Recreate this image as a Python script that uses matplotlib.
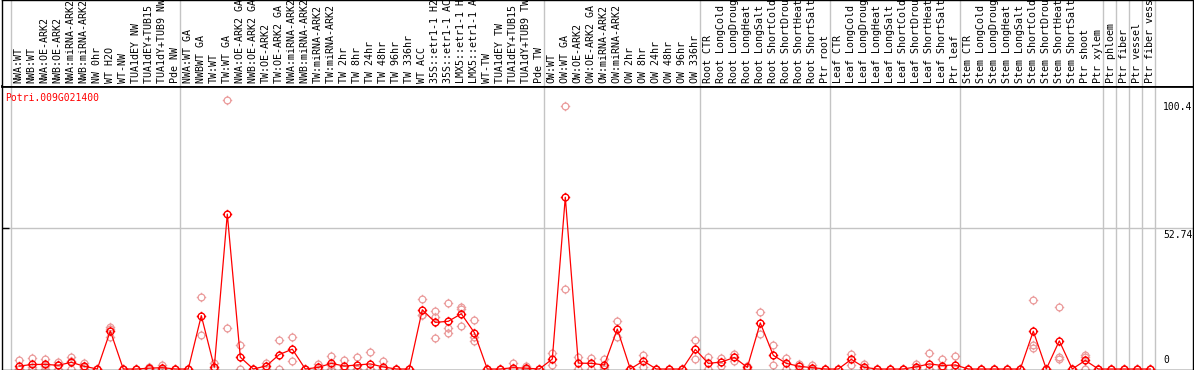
import numpy as np
import matplotlib
matplotlib.use("Agg")
from matplotlib import pyplot as plt
from matplotlib.path import Path

gene = "Potri.009G021400"

samples = [
    "NWA:WT", "NWB:WT", "NWA:OE-ARK2", "NWB:OE-ARK2", "NWA:miRNA-ARK2", "NWB:miRNA-ARK2",
    "NW 0hr", "WT H2O", "WT-NW", "TUA1dEY NW", "TUA1dEY+TUB15 NW", "TUA1dY+TUB9 NW", "Pde NW",
    "NWA:WT GA", "NWBWT GA", "TW:WT", "TW:WT GA", "NWA:OE-ARK2 GA", "NWB:OE-ARK2 GA",
    "TW:OE-ARK2", "TW:OE-ARK2 GA", "NWA:miRNA-ARK2 GA", "NWB:miRNA-ARK2 GA", "TW:miRNA-ARK2",
    "TW:miRNA-ARK2 GA", "TW 2hr", "TW 8hr", "TW 24hr", "TW 48hr", "TW 96hr", "TW 336hr",
    "WT ACC", "35S::etr1-1 H2O", "35S::etr1-1 ACC", "LMX5::etr1-1 H2O", "LMX5::etr1-1 ACC",
    "WT-TW", "TUA1dEY TW", "TUA1dEY+TUB15 TW", "TUA1dY+TUB9 TW", "Pde TW",
    "OW:WT", "OW:WT GA", "OW:OE-ARK2", "OW:OE-ARK2 GA", "OW:miRNA-ARK2", "OW:miRNA-ARK2 GA",
    "OW 2hr", "OW 8hr", "OW 24hr", "OW 48hr", "OW 96hr", "OW 336hr",
    "Root CTR", "Root LongCold", "Root LongDrought", "Root LongHeat", "Root LongSalt",
    "Root ShortCold", "Root ShortDrought", "Root ShortHeat", "Root ShortSalt", "Ptr root",
    "Leaf CTR", "Leaf LongCold", "Leaf LongDrought", "Leaf LongHeat", "Leaf LongSalt",
    "Leaf ShortCold", "Leaf ShortDrought", "Leaf ShortHeat", "Leaf ShortSalt", "Ptr leaf",
    "Stem CTR", "Stem LongCold", "Stem LongDrought", "Stem LongHeat", "Stem LongSalt",
    "Stem ShortCold", "Stem ShortDrought", "Stem ShortHeat", "Stem ShortSalt",
    "Ptr shoot", "Ptr xylem", "Ptr phloem", "Ptr fiber", "Ptr vessel", "Ptr fiber vessel",
]

# mean expression per sample (the red line)
means = [
    1.1, 1.7, 1.7, 1.4, 2.5, 1.0, 0, 14.2, 0, 0, 0.3, 0.5, 0,
    0, 19.9, 0.7, 57.8, 4.4, 0, 1.15, 5.4, 7.4, 0, 0.6, 2.1, 1.1, 1.5, 1.9, 0.75, 0, 0,
    22.1, 17.4, 17.8, 20.6, 13.6, 0, 0, 0.5, 0.3, 0,
    3.7, 64.1, 2.2, 2.1, 1.5, 14.9, 0, 3.0, 0, 0, 0, 7.3,
    2.1, 2.6, 4.3, 0.6, 17.2, 5.1, 2.1, 1.0, 0.5, 0,
    0, 3.6, 0.6, 0, 0, 0, 0.8, 1.9, 1.3, 1.5,
    0, 0, 0, 0, 0, 14.1, 0, 10.5, 0,
    3.2, 0, 0, 0, 0, 0,
]

# individual replicates (pale circles)
reps = [
    [3.3, 0, 0], [4.2, 0.9, 0], [3.9, 1.2, 0], [2.7, 1.5, 0], [4.6, 2.9, 0], [2.2, 0.8, 0],
    [0, 0], [15.6, 15.0, 12.0], [0, 0], [0, 0], [0.9, 0, 0], [1.5, 0, 0], [0, 0],
    [0, 0], [27.0, 12.8], [2.1, 0, 0], [100.4, 15.2], [8.8, 0], [0, 0], [2.3, 0],
    [10.8, 0], [11.8, 3.0], [0, 0], [1.7, 0, 0], [4.8, 1.5, 0], [3.3, 0, 0], [4.3, 0, 0],
    [6.2, 0, 0], [3.0, 0, 0, 0], [0, 0], [0, 0],
    [26.2, 20.0, 20.1], [21.5, 11.4, 19.3], [24.5, 13.6, 15.3], [23.3, 16.2, 22.3],
    [18.2, 10.5, 12.1], [0, 0], [0, 0], [2.2, 0, 0, 0], [1.2, 0, 0, 0], [0, 0],
    [5.8, 1.6], [98.1, 30.0], [4.5, 0], [4.2, 0], [3.7, 0.8, 0], [17.8, 12.0], [0, 0],
    [5.2, 0.8], [0, 0], [0, 0], [0, 0], [11.0, 3.6],
    [4.3, 0], [4.1, 1.1], [5.6, 3.0], [1.2, 0], [21.4, 12.9], [8.8, 1.4], [4.2, 0],
    [2.0, 0], [1.6, 0, 0], [0, 0],
    [0, 0], [5.6, 1.5], [1.9, 0, 0], [0, 0], [0, 0], [0, 0], [2.0, 0.4, 0], [5.8, 0, 0],
    [3.7, 0.2, 0], [4.7, 0, 0],
    [0, 0], [0, 0], [0, 0], [0, 0], [0, 0], [25.8, 8.9, 7.7], [0, 0], [23.3, 4.5, 3.7], [0, 0],
    [5.4, 4.3, 0], [0, 0], [0, 0], [0, 0], [0, 0], [0, 0],
]

# first sample index of each block (gray separators)
group_starts = [0, 13, 41, 53, 63, 73, 84, 85, 86, 87, 88]
axis_values = [100.4, 52.74, 0]

RED = "#ff0000"
PALE = "#eb9c9c"
GRID = "#c4c4c4"
MONO = "DejaVu Sans Mono"

W, H = 1194, 370
fig = plt.figure(figsize=(W / 100, H / 100), dpi=100)

# pixel layout
left_px, top_plot_px, bottom_px = 2, 86, 369.5
px_per_col, px_per_unit = 13, 2.68
x0 = -(19.3 - left_px) / px_per_col
x1 = x0 + (W - 1 - left_px) / px_per_col
plot_h = bottom_px - top_plot_px
y0 = -0.5 / px_per_unit
y1 = y0 + plot_h / px_per_unit

ax = fig.add_axes([left_px / W, (H - bottom_px) / H, (W - 1 - left_px) / W, plot_h / H])
hd = fig.add_axes([left_px / W, (H - top_plot_px) / H, (W - 1 - left_px) / W, top_plot_px / H])

for a in (ax, hd):
    a.set_xlim(x0, x1)
    a.set_xticks([])
    for s in a.spines.values():
        s.set_color("black")
        s.set_linewidth(1)
    for g in group_starts:
        a.axvline(g - 0.62, color=GRID, lw=1, zorder=0)

ax.set_ylim(y0, y1)
ax.spines["top"].set_linewidth(2)
hd.spines["bottom"].set_visible(False)
hd.set_ylim(0, 1)
hd.set_yticks([])

ax.set_yticks([52.74])
ax.set_yticklabels([])
ax.tick_params(axis="y", direction="in", length=5, width=1, color="black")
ax.axhline(52.74, color=GRID, lw=1, zorder=0)

# marker: circle with four short ticks
circ = Path.unit_circle()
ticks = Path([(0, 1), (0, 1.4), (0, -1), (0, -1.4), (1, 0), (1.4, 0), (-1, 0), (-1.4, 0)],
             [Path.MOVETO, Path.LINETO] * 4)
mk = Path.make_compound_path(circ, ticks)

x = np.arange(len(samples))
rx = [i for i, r in enumerate(reps) for _ in r]
ry = [v for r in reps for v in r]
ax.plot(rx, ry, ls="none", marker=mk, ms=6.8, mfc="none", mec=PALE, mew=0.9, zorder=2)
ax.plot(x, means, color=RED, lw=0.9, zorder=3)
ax.plot(x, means, ls="none", marker=mk, ms=6.8, mfc="none", mec=RED, mew=1.0, zorder=4)

ax.text(3 / (W - 1 - left_px), 1 - 12 / plot_h, gene, transform=ax.transAxes,
        color=RED, fontsize=7, family=MONO, va="center", ha="left")

for v in axis_values:
    if v == 0:
        ax.annotate("0", (88.0, v), xytext=(0, 4), textcoords="offset pixels",
                    fontsize=7, family=MONO, ha="left", va="bottom")
    else:
        ax.annotate(str(v), (88.0, v), xytext=(0, -2), textcoords="offset pixels",
                    fontsize=7, family=MONO, ha="left", va="top")

for i, name in enumerate(samples):
    t = hd.text(i - 0.05, 3 / top_plot_px, name, rotation=90, ha="center", va="bottom",
                fontsize=7.2, family=MONO, color="black")
    t.set_clip_on(True)

fig.savefig("out.png", dpi=100)
